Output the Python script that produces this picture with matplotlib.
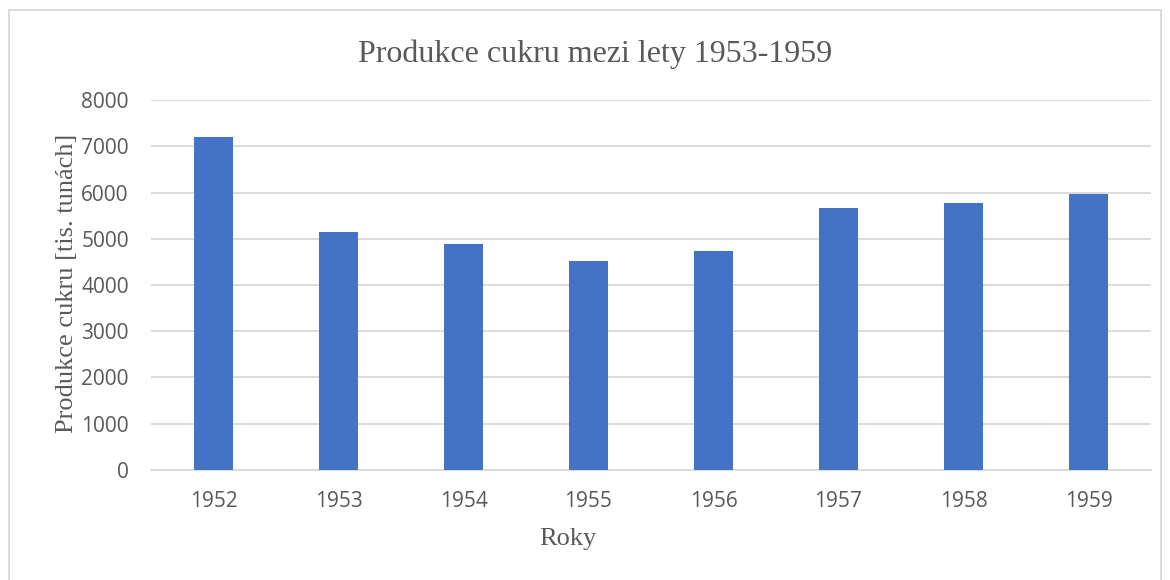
import matplotlib.pyplot as plt
from matplotlib.patches import Rectangle

# sugar production, thousands of tonnes
years = ["1952", "1953", "1954", "1955", "1956", "1957", "1958", "1959"]
production = [7210, 5150, 4890, 4525, 4740, 5670, 5785, 5965]
y_ticks = [0, 1000, 2000, 3000, 4000, 5000, 6000, 7000, 8000]

fig = plt.figure(figsize=(11.7, 5.8), dpi=100)
ax = fig.add_axes([151 / 1170, 1 - 469.8 / 580, 1000 / 1170, 369.5 / 580])

x = range(len(years))
ax.bar(x, production, width=0.305, color="#4472C4", zorder=3)

ax.set_xlim(-0.5, len(years) - 0.5)
ax.set_ylim(0, 8000)
ax.set_yticks(y_ticks)
ax.set_xticks(list(x))
ax.set_xticklabels(years)
ax.grid(axis="y", color="#D9D9D9", linewidth=1.3, zorder=0)
for side in ["top", "right", "left"]:
    ax.spines[side].set_visible(False)
ax.spines["bottom"].set_color("#D9D9D9")
ax.spines["bottom"].set_linewidth(1.3)
ax.tick_params(length=0, labelsize=15, labelcolor="#595959")
ax.tick_params(axis="y", pad=16)
ax.tick_params(axis="x", pad=15)
for lbl in ax.get_xticklabels() + ax.get_yticklabels():
    lbl.set_family("Open Sans")

fig.text(595 / 1170, 1 - 54 / 580, "Produkce cukru mezi lety 1953-1959",
         family="Liberation Serif", fontsize=23, color="#595959",
         ha="center", va="center")
fig.text(67 / 1170, 1 - 283 / 580, "Produkce cukru [tis. tunách]",
         family="Liberation Serif", fontsize=19, color="#595959",
         rotation=90, ha="center", va="center")
fig.text(568 / 1170, 1 - 539 / 580, "Roky",
         family="Liberation Serif", fontsize=19, color="#595959",
         ha="center", va="center")

# light chart frame
fig.patches.append(Rectangle((9 / 1170, -0.05), 1152 / 1170, 1.05 - 10 / 580,
                             transform=fig.transFigure, fill=False,
                             edgecolor="#D9D9D9", linewidth=1.3))

fig.savefig("out.png", dpi=100)
